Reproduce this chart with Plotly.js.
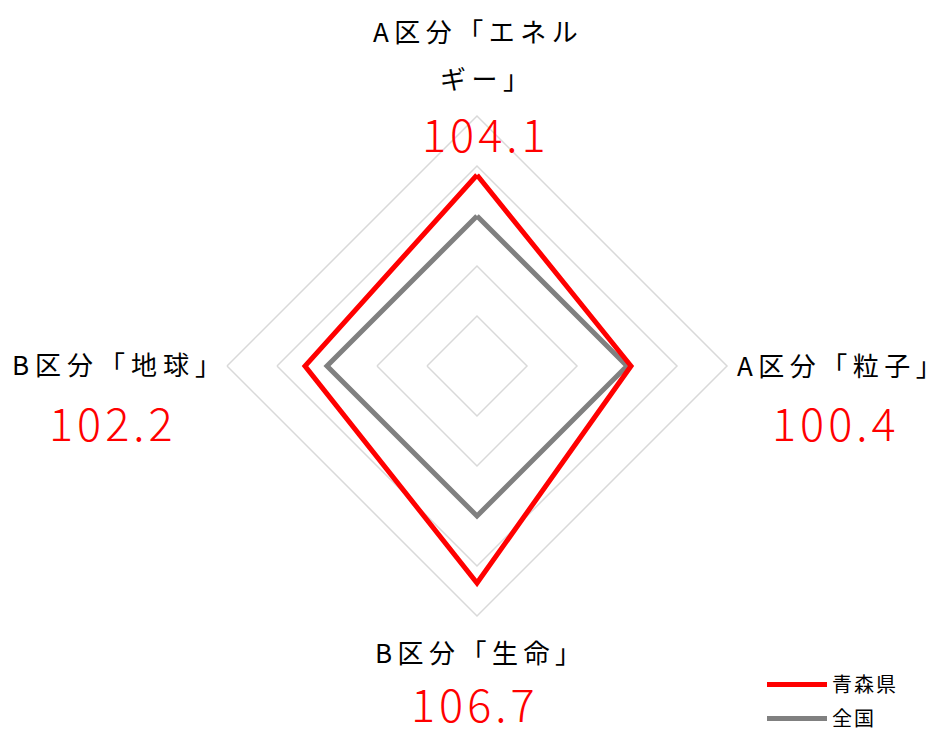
<!DOCTYPE html>
<html>
<head>
<meta charset="utf-8">
<script src="https://cdn.plot.ly/plotly-3.0.1.min.js"></script>
<style>
  html, body { margin: 0; padding: 0; background: #ffffff; }
  #chart { width: 941px; height: 729px; }
</style>
</head>
<body>
<div id="chart"></div>
<script>
// Axis categories, clockwise from the top
const categories = ['A区分「エネルギー」', 'A区分「粒子」', 'B区分「生命」', 'B区分「地球」'];
// Index values per category
const aomoriValues = [104.1, 100.4, 106.7, 102.2];
const nationalValues = [100, 100, 100, 100];
const seriesNames = ['青森県', '全国'];

const W = 941, H = 729;
const JP = '"Noto Sans CJK JP", "Noto Sans", sans-serif';

// close the polygons by repeating the first point
const close = arr => arr.concat([arr[0]]);
// widen the character spacing between the characters of a text (none after the last one)
const spaced = (t, s) => {
  const chars = Array.from(t);
  const last = chars.pop();
  return '<span style="letter-spacing:' + s + 'px">' + chars.join('') + '</span>' + last;
};

// national series first so the prefecture outline is drawn on top
const traces = [
  {
    type: 'scatterpolar', mode: 'lines', name: spaced(seriesNames[1], 2),
    legendgroup: 'national', legendrank: 2,
    r: close(nationalValues), theta: close(categories),
    line: { color: '#808080', width: 5 }, hoverinfo: 'skip'
  },
  {
    type: 'scatterpolar', mode: 'lines', name: spaced(seriesNames[0], 2),
    legendgroup: 'aomori', legendrank: 1,
    r: close(aomoriValues), theta: close(categories),
    line: { color: '#ff0000', width: 5 }, hoverinfo: 'skip'
  }
];

// category label + value label, placed around the diamond (pixel positions -> paper)
const px = x => x / W;
const py = y => 1 - y / H;
function label(text, x, y, s) {
  return { text: spaced(text, s), x: px(x), y: py(y), xref: 'paper', yref: 'paper', showarrow: false,
           xanchor: 'left', yanchor: 'middle', font: { family: JP, size: 26, color: '#000000' } };
}
function valueLabel(v, x, y) {
  return { text: spaced(v.toFixed(1), 4), x: px(x), y: py(y), xref: 'paper', yref: 'paper', showarrow: false,
           xanchor: 'center', yanchor: 'middle', height: 48,
           font: { family: JP, size: 45, color: '#ff0000', weight: 300 } };
}

const annotations = [
  label('A区分「エネル', 371, 30, 5.5),
  label('ギー」', 438, 77, 5.5),
  valueLabel(aomoriValues[0], 484, 132),
  label(categories[1], 735, 364, 5.5),
  valueLabel(aomoriValues[1], 834, 421),
  label(categories[2], 373, 651, 5.5),
  valueLabel(aomoriValues[2], 473, 702),
  label(categories[3], 10, 363, 6),
  valueLabel(aomoriValues[3], 111, 421)
];

const layout = {
  width: W, height: H,
  margin: { l: 0, r: 0, t: 0, b: 0, autoexpand: false },
  paper_bgcolor: '#ffffff',
  showlegend: true,
  legend: {
    x: px(762), y: py(665), xanchor: 'left', yanchor: 'top',
    traceorder: 'grouped', tracegroupgap: 5, itemwidth: 60,
    font: { family: JP, size: 20, color: '#000000' },
    bgcolor: 'rgba(0,0,0,0)'
  },
  polar: {
    domain: { x: [px(227), px(727)], y: [py(616), py(116)] },
    bgcolor: '#ffffff',
    gridshape: 'linear',
    radialaxis: {
      range: [85, 110], tick0: 85, dtick: 5,
      showticklabels: false, ticks: '', showline: false,
      gridcolor: '#d9d9d9', gridwidth: 1.5, angle: 90
    },
    angularaxis: {
      rotation: 90, direction: 'clockwise',
      showticklabels: false, ticks: '', showgrid: false,
      showline: true, linecolor: '#d9d9d9', linewidth: 1.5
    }
  },
  annotations
};

Plotly.newPlot('chart', traces, layout, { displayModeBar: false, staticPlot: true });
</script>
</body>
</html>
